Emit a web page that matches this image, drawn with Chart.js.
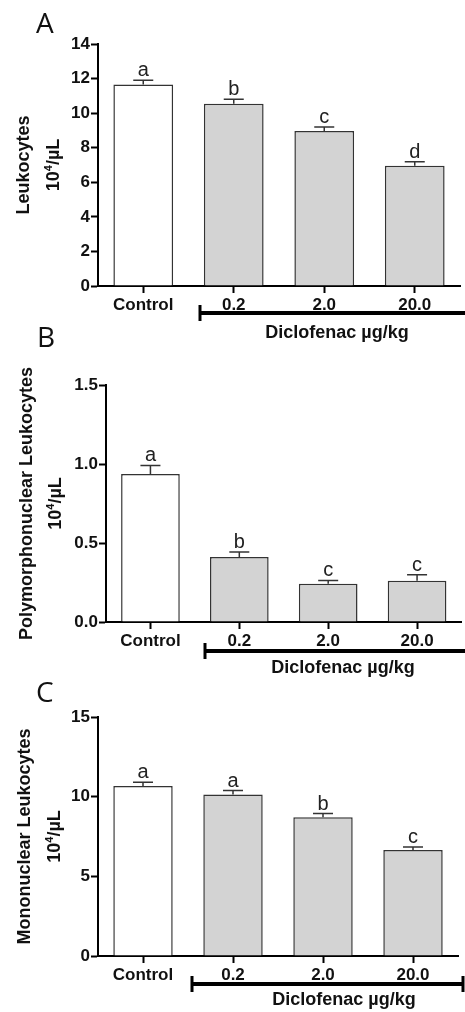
<!DOCTYPE html>
<html>
<head>
<meta charset="utf-8">
<script src="https://cdn.jsdelivr.net/npm/chart.js@4.4.1/dist/chart.umd.min.js"></script>
<style>
html, body { margin: 0; padding: 0; background: #fff; }
body { width: 465px; height: 1012px; position: relative; overflow: hidden; }
canvas { position: absolute; left: 0; }
</style>
</head>
<body>
<canvas id="chartA" width="465" height="345" style="top:0px"></canvas>
<canvas id="chartB" width="465" height="360" style="top:320px"></canvas>
<canvas id="chartC" width="465" height="352" style="top:660px"></canvas>
<script>
// Data
var groups = ['Control', '0.2', '2.0', '20.0'];
var barColors = ['#ffffff', '#d3d3d3', '#d3d3d3', '#d3d3d3'];

var leukMean = [11.65, 10.55, 8.97, 6.96];
var leukErr = [0.25, 0.25, 0.23, 0.23];
var leukLetters = ['a', 'b', 'c', 'd'];

var pmnMean = [0.937, 0.411, 0.242, 0.261];
var pmnErr = [0.054, 0.032, 0.021, 0.038];
var pmnLetters = ['a', 'b', 'c', 'c'];

var monoMean = [10.67, 10.13, 8.71, 6.65];
var monoErr = [0.23, 0.25, 0.23, 0.19];
var monoLetters = ['a', 'a', 'b', 'c'];

var drugLabel = 'Diclofenac \u00b5g/kg';
var fam = '"Liberation Sans", Arial, sans-serif';

// error bars, letters, titles, bracket
function makeExtras(cfg) {
    return {
        id: 'extras',
        afterDatasetsDraw: function(chart) {
            var ctx = chart.ctx;
            var y = chart.scales.y;
            var meta = chart.getDatasetMeta(0);
            ctx.save();
            ctx.strokeStyle = '#333';
            ctx.lineWidth = 1.5;
            ctx.fillStyle = '#222';
            ctx.font = '20px ' + fam;
            ctx.textAlign = 'center';
            ctx.textBaseline = 'alphabetic';
            cfg.mean.forEach(function(m, i) {
                var cx = meta.data[i].x;
                var top = y.getPixelForValue(m);
                var et = y.getPixelForValue(m + cfg.err[i]);
                ctx.beginPath();
                ctx.moveTo(cx, top);
                ctx.lineTo(cx, et);
                ctx.moveTo(cx - 10, et);
                ctx.lineTo(cx + 10, et);
                ctx.stroke();
                ctx.fillText(cfg.letters[i], cx, et - 4);
            });
            ctx.restore();
        },
        afterDraw: function(chart) {
            var ctx = chart.ctx;
            var area = chart.chartArea;
            var cy = (area.top + area.bottom) / 2;
            ctx.save();
            ctx.fillStyle = '#111';

            // panel letter
            ctx.font = '28px "Open Sans", sans-serif';
            ctx.textAlign = 'left';
            ctx.textBaseline = 'alphabetic';
            ctx.fillText(cfg.panel, cfg.panelPos[0], cfg.panelPos[1]);

            // y title, line 1
            ctx.font = 'bold 18px ' + fam;
            ctx.save();
            ctx.translate(cfg.titleX[0], cy);
            ctx.rotate(-Math.PI / 2);
            ctx.textAlign = 'center';
            ctx.fillText(cfg.title, 0, 0);
            ctx.restore();

            // y title, line 2 : 10^4/µL
            ctx.save();
            ctx.translate(cfg.titleX[1], cy);
            ctx.rotate(-Math.PI / 2);
            ctx.textAlign = 'left';
            var big = 'bold 18px ' + fam, small = 'bold 11px ' + fam;
            ctx.font = big;
            var w1 = ctx.measureText('10').width;
            var w3 = ctx.measureText('/\u00b5L').width;
            ctx.font = small;
            var w2 = ctx.measureText('4').width;
            var sx = -(w1 + w2 + w3) / 2;
            ctx.font = big;
            ctx.fillText('10', sx, 0);
            ctx.font = small;
            ctx.fillText('4', sx + w1, -7);
            ctx.font = big;
            ctx.fillText('/\u00b5L', sx + w1 + w2, 0);
            ctx.restore();

            // bracket
            var b = cfg.bracket;
            ctx.strokeStyle = '#000';
            ctx.lineWidth = 4;
            ctx.beginPath();
            ctx.moveTo(b.x1, b.y);
            ctx.lineTo(b.x2, b.y);
            ctx.stroke();
            ctx.lineWidth = 3;
            ctx.beginPath();
            ctx.moveTo(b.x1, b.y - 8);
            ctx.lineTo(b.x1, b.y + 8);
            if (b.rightTick) {
                ctx.moveTo(b.x2, b.y - 8);
                ctx.lineTo(b.x2, b.y + 8);
            }
            ctx.stroke();

            ctx.font = 'bold 18px ' + fam;
            ctx.textAlign = 'center';
            ctx.textBaseline = 'middle';
            ctx.fillText(drugLabel, cfg.labelPos[0], cfg.labelPos[1]);
            ctx.restore();
        }
    };
}

function makePanel(id, cfg) {
    return new Chart(document.getElementById(id), {
        type: 'bar',
        data: {
            labels: groups,
            datasets: [{
                data: cfg.mean,
                backgroundColor: barColors,
                borderColor: '#333',
                borderWidth: 1.5,
                barPercentage: 0.66,
                categoryPercentage: 1
            }]
        },
        options: {
            responsive: false,
            animation: false,
            devicePixelRatio: 1,
            layout: { padding: { top: cfg.top, right: cfg.right, bottom: 0, left: 0 } },
            plugins: {
                legend: { display: false },
                tooltip: { enabled: false }
            },
            scales: {
                x: {
                    offset: true,
                    grid: { drawOnChartArea: false, offset: false, tickLength: 7, tickWidth: 2, tickColor: '#000' },
                    border: { color: '#000', width: 2 },
                    ticks: { font: { family: fam, size: 17, weight: 'bold' }, color: '#111', padding: 2, maxRotation: 0 },
                    afterFit: function(s) { s.height = cfg.xh; }
                },
                y: {
                    min: 0,
                    max: cfg.max,
                    grid: { drawOnChartArea: false, tickLength: 7, tickWidth: 2, tickColor: '#000' },
                    border: { color: '#000', width: 2 },
                    ticks: {
                        stepSize: cfg.step,
                        font: { family: fam, size: 17, weight: 'bold' },
                        color: '#111',
                        padding: 1,
                        callback: function(v) { return cfg.dec ? v.toFixed(cfg.dec) : v; }
                    },
                    afterFit: function(s) { s.width = cfg.left; }
                }
            }
        },
        plugins: [makeExtras(cfg)]
    });
}

makePanel('chartA', {
    mean: leukMean, err: leukErr, letters: leukLetters,
    max: 14, step: 2, dec: 0,
    top: 44, right: 5, xh: 59, left: 98,
    panel: 'A', panelPos: [36, 33],
    title: 'Leukocytes', titleX: [29, 59],
    bracket: { x1: 200, x2: 470, y: 313, rightTick: false },
    labelPos: [337, 333]
});

makePanel('chartB', {
    mean: pmnMean, err: pmnErr, letters: pmnLetters,
    max: 1.5, step: 0.5, dec: 1,
    top: 65, right: 3.5, xh: 58, left: 106,
    panel: 'B', panelPos: [37, 27],
    title: 'Polymorphonuclear Leukocytes', titleX: [32, 61],
    bracket: { x1: 205, x2: 470, y: 331, rightTick: false },
    labelPos: [343, 348]
});

makePanel('chartC', {
    mean: monoMean, err: monoErr, letters: monoLetters,
    max: 15, step: 5, dec: 0,
    top: 57, right: 7, xh: 56, left: 98,
    panel: 'C', panelPos: [36, 42],
    title: 'Mononuclear Leukocytes', titleX: [30, 60],
    bracket: { x1: 192, x2: 463, y: 324, rightTick: true },
    labelPos: [344, 340]
});
</script>
</body>
</html>
